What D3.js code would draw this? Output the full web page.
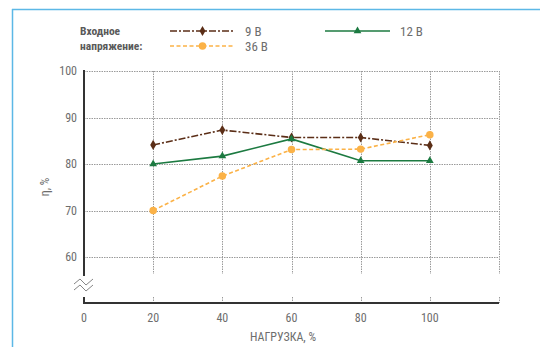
<!DOCTYPE html>
<html>
<head>
<meta charset="utf-8">
<script src="https://cdn.jsdelivr.net/npm/d3@7"></script>
<style>
    body { margin: 0; background: #fff; }
    #chart { width: 540px; height: 347px; }
    text { font-family: "Liberation Sans Narrow", "Roboto Condensed", "DejaVu Sans Condensed", sans-serif; }
</style>
</head>
<body>
<div id="chart"></div>
<script>
//Datos del gráfico
const loads = [20, 40, 60, 80, 100];
const eff9 = [84.1, 87.3, 85.7, 85.7, 84.0];
const eff12 = [80.0, 81.7, 85.4, 80.7, 80.7];
const eff36 = [70.0, 77.4, 83.1, 83.2, 86.3];
const xTicks = [0, 20, 40, 60, 80, 100];
const yTicks = [60, 70, 80, 90, 100];
const seriesNames = ['9 В', '12 В', '36 В'];

//Colores fijos
const COLOR_9 = '#5b2e17',
    COLOR_12 = '#1c7a41',
    COLOR_36 = '#fbb247',
    COLOR_GRID = '#9a9a9a',
    COLOR_TEXT = '#6d6d6d',
    COLOR_FRAME = '#5cb8e6';

let svg = d3.select('#chart')
    .append('svg')
        .attr('width', 540)
        .attr('height', 347);

//Marco azul
svg.append('line').attr('x1', 12).attr('x2', 540).attr('y1', 9.5).attr('y2', 9.5)
    .attr('stroke', COLOR_FRAME).attr('stroke-width', 1.5);
svg.append('line').attr('x1', 12.5).attr('x2', 12.5).attr('y1', 9).attr('y2', 347)
    .attr('stroke', COLOR_FRAME).attr('stroke-width', 1.5);

let x = d3.scaleLinear()
    .domain([0, 120])
    .range([84, 499]);

let y = d3.scaleLinear()
    .domain([60, 100])
    .range([257, 71]);

const axisY = 303, gridBottom = 274, axisResume = 297;

//Rejilla horizontal
svg.append('g')
    .selectAll('line')
    .data(yTicks)
    .enter()
    .append('line')
    .attr('x1', x(0))
    .attr('x2', x(120))
    .attr('y1', function(d) { return Math.round(y(d)) + 0.5; })
    .attr('y2', function(d) { return Math.round(y(d)) + 0.5; })
    .attr('stroke', COLOR_GRID)
    .attr('stroke-width', 1)
    .attr('stroke-dasharray', '1.5,1');

//Rejilla vertical
let vTicks = [20, 40, 60, 80, 100, 120];
svg.append('g')
    .selectAll('line')
    .data(vTicks)
    .enter()
    .append('line')
    .attr('x1', function(d) { return Math.round(x(d)) + 0.5; })
    .attr('x2', function(d) { return Math.round(x(d)) + 0.5; })
    .attr('y1', y(100))
    .attr('y2', gridBottom)
    .attr('stroke', COLOR_GRID)
    .attr('stroke-width', 1)
    .attr('stroke-dasharray', '1.5,1');

svg.append('g')
    .selectAll('line')
    .data(vTicks)
    .enter()
    .append('line')
    .attr('x1', function(d) { return Math.round(x(d)) + 0.5; })
    .attr('x2', function(d) { return Math.round(x(d)) + 0.5; })
    .attr('y1', axisResume)
    .attr('y2', axisY)
    .attr('stroke', COLOR_GRID)
    .attr('stroke-width', 1)
    .attr('stroke-dasharray', '1.5,1');

//Ejes
svg.append('line').attr('x1', x(0)).attr('x2', x(0)).attr('y1', y(100) - 1).attr('y2', 276)
    .attr('stroke', '#333').attr('stroke-width', 2);
svg.append('line').attr('x1', x(0)).attr('x2', x(0)).attr('y1', axisResume).attr('y2', axisY)
    .attr('stroke', '#333').attr('stroke-width', 2);
svg.append('line').attr('x1', x(0) - 1).attr('x2', x(120)).attr('y1', axisY).attr('y2', axisY)
    .attr('stroke', '#333').attr('stroke-width', 2);

//Símbolo de ruptura
[0, 6].forEach(function(off) {
    svg.append('path')
        .attr('d', 'M74,' + (284 + off) + ' L80,' + (279 + off) + ' L86,' + (285 + off) + ' L93,' + (279 + off))
        .attr('fill', 'none')
        .attr('stroke', '#777')
        .attr('stroke-width', 0.9);
});

//Etiquetas eje Y
svg.append('g')
    .selectAll('text')
    .data(yTicks)
    .enter()
    .append('text')
    .attr('x', 77)
    .attr('y', function(d) { return y(d) + 4; })
    .attr('text-anchor', 'end')
    .attr('font-size', 12)
    .attr('fill', COLOR_TEXT)
    .text(function(d) { return d; });

//Etiquetas eje X
svg.append('g')
    .selectAll('text')
    .data(xTicks)
    .enter()
    .append('text')
    .attr('x', function(d) { return x(d); })
    .attr('y', 322)
    .attr('text-anchor', 'middle')
    .attr('font-size', 12)
    .attr('fill', COLOR_TEXT)
    .text(function(d) { return d; });

//Títulos de ejes
svg.append('text')
    .attr('x', 283)
    .attr('y', 341)
    .attr('text-anchor', 'middle')
    .attr('font-size', 12)
    .attr('fill', COLOR_TEXT)
    .text('НАГРУЗКА, %');

svg.append('text')
    .attr('transform', 'translate(49,187) rotate(-90)')
    .attr('text-anchor', 'middle')
    .attr('font-size', 12)
    .attr('fill', COLOR_TEXT)
    .text('η, %');

//Series
let series = [
    { name: seriesNames[0], values: eff9, color: COLOR_9, dash: '7,2,2,2', shape: d3.symbolDiamond, size: 30 },
    { name: seriesNames[1], values: eff12, color: COLOR_12, dash: null, shape: d3.symbolTriangle, size: 26 },
    { name: seriesNames[2], values: eff36, color: COLOR_36, dash: '4,2.5', shape: d3.symbolCircle, size: 44 }
];

let line = d3.line()
    .x(function(d, i) { return x(loads[i]); })
    .y(function(d) { return y(d); });

series.forEach(function(s) {
    svg.append('path')
        .datum(s.values)
        .attr('d', line)
        .attr('fill', 'none')
        .attr('stroke', s.color)
        .attr('stroke-width', 1.6)
        .attr('stroke-dasharray', s.dash);

    svg.append('g')
        .selectAll('path')
        .data(s.values)
        .enter()
        .append('path')
        .attr('d', d3.symbol().type(s.shape).size(s.size))
        .attr('transform', function(d, i) { return 'translate(' + x(loads[i]) + ',' + y(d) + ')'; })
        .attr('fill', s.color);
});

//Leyenda
let legendTitle = svg.append('text')
    .attr('font-size', 11.5)
    .attr('font-weight', 'bold')
    .attr('fill', '#5a5a5a');
legendTitle.append('tspan').attr('x', 80).attr('y', 35).text('Входное');
legendTitle.append('tspan').attr('x', 80).attr('y', 50).text('напряжение:');

let legendPos = [
    { x1: 170, x2: 235, y: 31 },
    { x1: 325, x2: 390, y: 31 },
    { x1: 170, x2: 235, y: 46 }
];

series.forEach(function(s, i) {
    let p = legendPos[i];
    svg.append('line')
        .attr('x1', p.x1).attr('x2', p.x2)
        .attr('y1', p.y).attr('y2', p.y)
        .attr('stroke', s.color)
        .attr('stroke-width', 1.6)
        .attr('stroke-dasharray', s.dash);
    svg.append('path')
        .attr('d', d3.symbol().type(s.shape).size(s.size))
        .attr('transform', 'translate(' + ((p.x1 + p.x2) / 2) + ',' + p.y + ')')
        .attr('fill', s.color);
    svg.append('text')
        .attr('x', p.x2 + 10)
        .attr('y', p.y + 4.5)
        .attr('font-size', 13)
        .attr('fill', COLOR_TEXT)
        .text(s.name);
});
</script>
</body>
</html>
